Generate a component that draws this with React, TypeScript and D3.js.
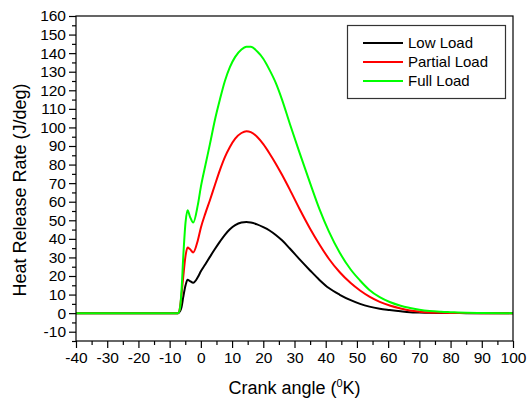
import React, { useEffect, useRef } from 'react';
import * as d3 from 'd3';

// crank angle samples shared by all three series
const angles = [-40, -8, -7.3, -6.7, -6.2, -5.65, -4.9, -4.25, -3.5, -2.45, -1, 0, 1.5, 2.9, 4.5, 6.1, 7.7, 9.3, 11, 13, 14.6, 16, 18, 20, 22, 24, 26, 28.5, 31.5, 35, 38, 41, 44.5, 48, 51, 54, 57.3, 60.5, 64, 67, 70, 73.3, 77, 80, 85, 90, 100];

const lowLoad = [0, 0, 0, 1, 3.2, 8.6, 15, 18, 17.3, 16.4, 19.3, 22.5, 26.5, 30.3, 34.5, 38.5, 42.2, 45.2, 47.4, 48.8, 49.1, 48.8, 47.8, 46.3, 44.5, 42.1, 39.2, 34.8, 29.2, 23, 17.9, 13.5, 9.9, 7.0, 5.0, 3.5, 2.4, 1.7, 1.0, 0.5, 0.3, 0.15, 0.1, 0.05, 0, 0, 0];

const partialLoad = [0, 0, 0, 3, 10, 19.4, 31, 35.3, 34.5, 32.7, 39, 46, 54, 60.8, 69, 77, 84, 89.5, 94, 97, 98, 97.5, 95, 91, 86, 80.5, 74.5, 66.5, 56.5, 45.5, 37, 29.3, 22, 16.2, 12.2, 8.9, 6.1, 4.1, 2.5, 1.4, 0.8, 0.4, 0.2, 0.1, 0.05, 0, 0];

const fullLoad = [0, 0, 0, 2.5, 12, 30, 49, 55.4, 52, 48.8, 58, 68, 80, 91, 104, 115, 125, 132.5, 138, 142, 143.5, 143.5, 141, 137, 131, 124, 115, 102, 87, 70, 56, 44, 32.5, 23.5, 17.6, 12.5, 8.6, 6, 4, 2.8, 1.8, 1.1, 0.7, 0.5, 0.2, 0.1, 0];

const seriesNames = ['Low Load', 'Partial Load', 'Full Load'];
const seriesColors = ['#000000', '#ff0000', '#00ff00'];

const xTicks = d3.range(-40, 101, 10);
const yTicks = d3.range(-10, 161, 10);

const FONT = '"Liberation Sans", Arial, sans-serif';

const App = () => {
  const svgRef = useRef<SVGSVGElement>(null);

  useEffect(() => {
    document.body.style.margin = '0';
    const width = 532;
    const height = 401;
    const plot = { left: 76, right: 513, top: 16, bottom: 341 };

    const svg = d3.select(svgRef.current);
    svg.selectAll('*').remove();
    svg.attr('width', width).attr('height', height);

    const x = d3.scaleLinear().domain([-40, 100]).range([plot.left, plot.right]);
    const y = d3.scaleLinear().domain([-15, 160]).range([plot.bottom, plot.top]);

    svg.append('rect')
      .attr('width', width).attr('height', height)
      .attr('fill', 'white');

    svg.append('defs').append('clipPath').attr('id', 'plot-clip')
      .append('rect')
      .attr('x', plot.left).attr('y', plot.top)
      .attr('width', plot.right - plot.left).attr('height', plot.bottom - plot.top);

    // curves
    const line = d3.line<number>()
      .x((d, i) => x(angles[i]))
      .y(d => y(d))
      .curve(d3.curveMonotoneX);

    const seriesValues = [lowLoad, partialLoad, fullLoad];
    const lines = svg.append('g').attr('clip-path', 'url(#plot-clip)');
    seriesValues.forEach((vals, i) => {
      lines.append('path')
        .attr('d', line(vals))
        .attr('fill', 'none')
        .attr('stroke', seriesColors[i])
        .attr('stroke-width', 2)
        .attr('stroke-linejoin', 'round');
    });

    // frame
    svg.append('rect')
      .attr('x', plot.left).attr('y', plot.top)
      .attr('width', plot.right - plot.left).attr('height', plot.bottom - plot.top)
      .attr('fill', 'none')
      .attr('stroke', '#000')
      .attr('stroke-width', 1.2);

    const fmt = (d: any) => String(d);

    // x axis
    const xAxis = svg.append('g')
      .attr('transform', `translate(0,${plot.bottom})`)
      .call(d3.axisBottom(x).tickValues(xTicks).tickFormat(fmt).tickSize(7).tickSizeOuter(0).tickPadding(4));
    xAxis.select('.domain').remove();
    xAxis.selectAll('text')
      .style('font-family', FONT)
      .style('font-size', '15.5px')
      .style('fill', '#000');
    svg.append('g')
      .attr('transform', `translate(0,${plot.bottom})`)
      .call(d3.axisBottom(x).tickValues(d3.range(-35, 100, 10)).tickSize(4).tickFormat(() => ''))
      .select('.domain').remove();

    // y axis
    const yAxis = svg.append('g')
      .attr('transform', `translate(${plot.left},0)`)
      .call(d3.axisLeft(y).tickValues(yTicks).tickFormat(fmt).tickSize(7).tickSizeOuter(0).tickPadding(3));
    yAxis.select('.domain').remove();
    yAxis.selectAll('text')
      .style('font-family', FONT)
      .style('font-size', '15.5px')
      .style('fill', '#000');
    svg.append('g')
      .attr('transform', `translate(${plot.left},0)`)
      .call(d3.axisLeft(y).tickValues(d3.range(-15, 161, 10)).tickSize(4).tickFormat(() => ''))
      .select('.domain').remove();

    svg.selectAll('.tick line').attr('stroke', '#000').attr('stroke-width', 1.2);

    // axis titles
    svg.append('text')
      .attr('transform', `translate(26,${190}) rotate(-90)`)
      .attr('text-anchor', 'middle')
      .style('font-family', FONT)
      .style('font-size', '18px')
      .text('Heat Release Rate (J/deg)');

    const xTitle = svg.append('text')
      .attr('x', (plot.left + plot.right) / 2)
      .attr('y', 394)
      .attr('text-anchor', 'middle')
      .style('font-family', FONT)
      .style('font-size', '18px');
    xTitle.append('tspan').text('Crank angle (');
    xTitle.append('tspan').attr('dy', -7).style('font-size', '11px').text('0');
    xTitle.append('tspan').attr('dy', 7).text('K)');

    // legend
    const legend = svg.append('g');
    legend.append('rect')
      .attr('x', 347.5).attr('y', 25.5)
      .attr('width', 158).attr('height', 73)
      .attr('fill', 'white')
      .attr('stroke', '#333')
      .attr('stroke-width', 1.2);
    seriesNames.forEach((name, i) => {
      const ly = 43 + i * 19;
      legend.append('line')
        .attr('x1', 363).attr('x2', 403)
        .attr('y1', ly).attr('y2', ly)
        .attr('stroke', seriesColors[i])
        .attr('stroke-width', 2);
      legend.append('text')
        .attr('x', 408)
        .attr('y', ly)
        .attr('dy', '0.35em')
        .style('font-family', FONT)
        .style('font-size', '15px')
        .text(name);
    });
  }, []);

  return (
    <div>
      <svg ref={svgRef} style={{ display: 'block' }}></svg>
    </div>
  );
};

export default App;
